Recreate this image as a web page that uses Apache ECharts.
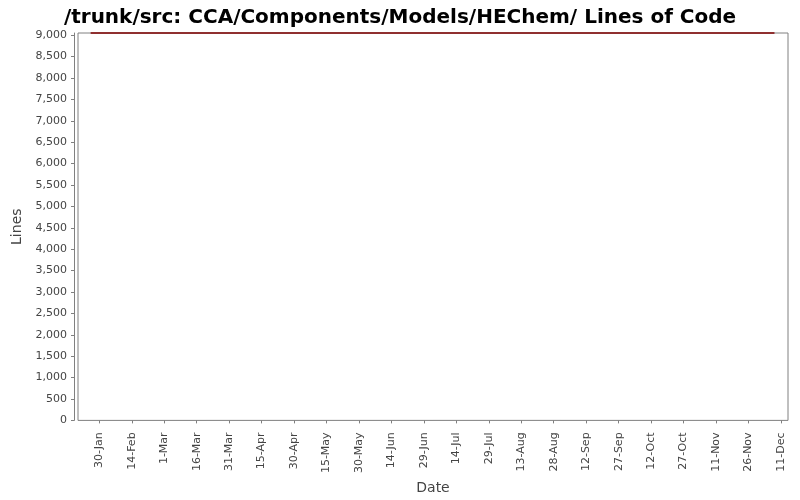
<!DOCTYPE html>
<html><head><meta charset="utf-8">
<script src="https://cdn.jsdelivr.net/npm/echarts@6/dist/echarts.min.js"></script>
<style>html,body{margin:0;padding:0;background:#fff}#c{width:800px;height:500px}</style>
</head><body><div id="c"></div>
<script>
const chartTitle = '/trunk/src: CCA/Components/Models/HEChem/ Lines of Code';
const dates = ['2007-01-26', '2007-03-20', '2007-06-05', '2007-09-15', '2007-12-08'];
const lines = [9050, 9050, 9050, 9050, 9050];
const tickDates = ['2007-01-30','2007-02-14','2007-03-01','2007-03-16','2007-03-31','2007-04-15','2007-04-30','2007-05-15','2007-05-30','2007-06-14','2007-06-29','2007-07-14','2007-07-29','2007-08-13','2007-08-28','2007-09-12','2007-09-27','2007-10-12','2007-10-27','2007-11-11','2007-11-26','2007-12-11'];
const yTicks = [0,500,1000,1500,2000,2500,3000,3500,4000,4500,5000,5500,6000,6500,7000,7500,8000,8500,9000];
const monthNames = ['Jan','Feb','Mar','Apr','May','Jun','Jul','Aug','Sep','Oct','Nov','Dec'];

const DAY = 86400000;
const ts = s => Date.parse(s + 'T00:00:00Z');
const anchor = ts(tickDates[0]);
const xMin = anchor - 9.84 * DAY;
const xMax = anchor + 318.25 * DAY;
const FONT = 'DejaVu Sans';

const chart = echarts.init(document.getElementById('c'), null, {renderer: 'canvas'});
chart.setOption({
  animation: false,
  backgroundColor: '#ffffff',
  title: {
    text: chartTitle, left: 'center', top: 3,
    textStyle: {fontFamily: FONT, fontWeight: 'bold', fontSize: 20, color: '#000'}
  },
  grid: {
    left: 78, right: 12, top: 33, bottom: 78.5,
    show: true, borderColor: '#808080', borderWidth: 1, backgroundColor: '#ffffff'
  },
  xAxis: {
    type: 'value', min: xMin, max: xMax, offset: 4,
    name: 'Date', nameLocation: 'middle', nameGap: 52,
    nameTextStyle: {fontFamily: FONT, fontSize: 14, color: '#444'},
    axisLine: {show: false},
    axisTick: {show: true, length: 3, lineStyle: {color: '#808080'}, customValues: tickDates.map(ts)},
    axisLabel: {
      customValues: tickDates.map(ts), rotate: 90, margin: 8,
      fontFamily: FONT, fontSize: 11, color: '#444',
      formatter: v => { const d = new Date(v); return d.getUTCDate() + '-' + monthNames[d.getUTCMonth()]; }
    },
    splitLine: {show: false}
  },
  yAxis: {
    type: 'value', min: 0, max: 9050, offset: 4,
    name: 'Lines', nameLocation: 'middle', nameGap: 48, nameRotate: 90,
    nameTextStyle: {fontFamily: FONT, fontSize: 14, color: '#444'},
    axisLine: {show: true, lineStyle: {color: '#808080'}},
    axisTick: {show: true, length: 3, lineStyle: {color: '#808080'}, customValues: yTicks},
    axisLabel: {
      customValues: yTicks, margin: 7,
      fontFamily: FONT, fontSize: 11, color: '#444',
      formatter: v => v.toLocaleString('en-US')
    },
    splitLine: {show: false}
  },
  series: [{
    type: 'line',
    data: dates.map((d, i) => [ts(d), lines[i]]),
    showSymbol: false, symbol: 'none',
    lineStyle: {color: '#800000', width: 1.5},
    clip: false
  }]
});
</script></body></html>
